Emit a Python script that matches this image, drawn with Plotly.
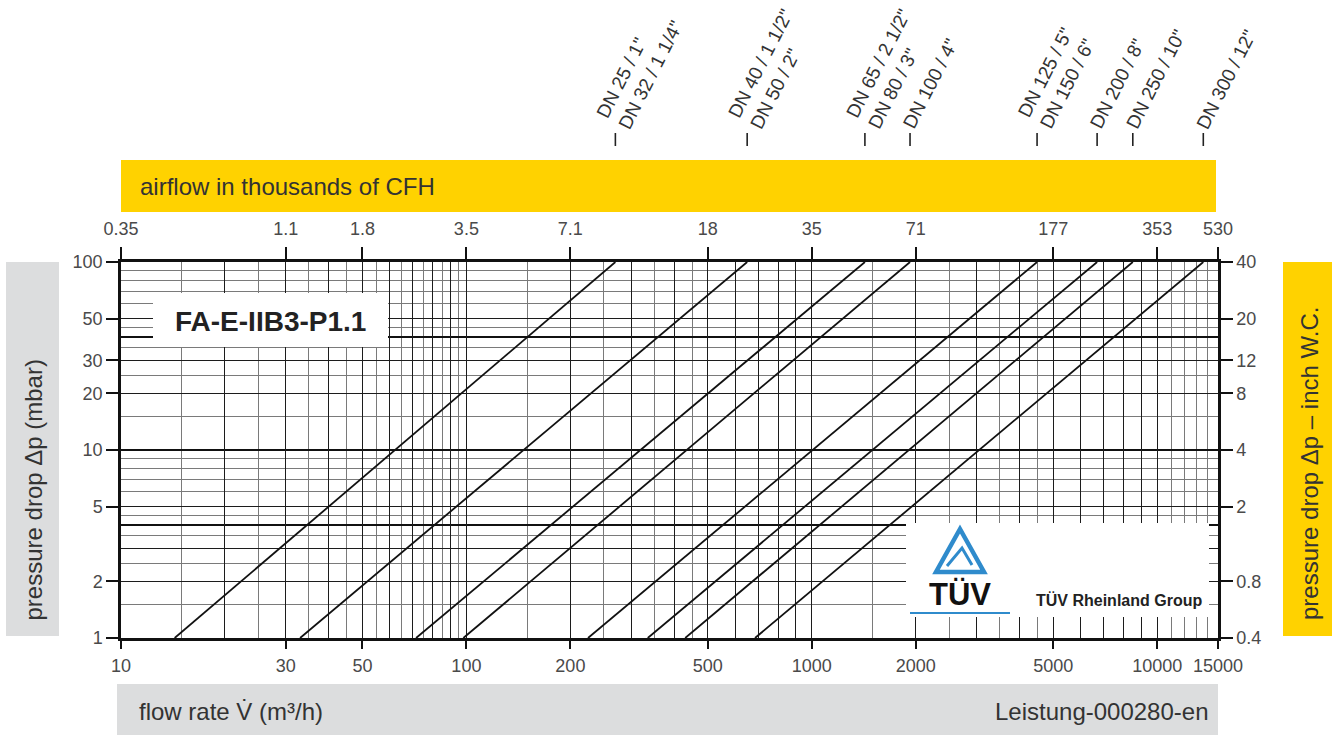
import numpy as np
import plotly.graph_objects as go

# ---------------- data ----------------
dn_labels = ['DN 25 / 1"<br>DN 32 / 1 1/4"', 'DN 40 / 1 1/2"<br>DN 50 / 2"',
             'DN 65 / 2 1/2"<br>DN 80 / 3"', 'DN 100 / 4"',
             'DN 125 / 5"<br>DN 150 / 6"', 'DN 200 / 8"', 'DN 250 / 10"', 'DN 300 / 12"']
flow_at_1mbar = [14.3, 33, 71.5, 98, 225, 335, 430, 685]          # m3/h at 1 mbar
flow_at_100mbar = [270, 650, 1425, 1925, 4490, 6700, 8500, 13600]  # m3/h at 100 mbar
pressure_ends = [1, 100]

flow_ticks = [10, 30, 50, 100, 200, 500, 1000, 2000, 5000, 10000, 15000]
flow_tick_text = ['10', '30', '50', '100', '200', '500', '1000', '2000', '5000', '10000', '15000']
cfh_tick_text = ['0.35', '1.1', '1.8', '3.5', '7.1', '18', '35', '71', '177', '353', '530']
mbar_ticks = [1, 2, 5, 10, 20, 30, 50, 100]
mbar_tick_text = ['1', '2', '5', '10', '20', '30', '50', '100']
inch_tick_text = ['0.4', '0.8', '2', '4', '8', '12', '20', '40']

grid_x_major = [10, 20, 30, 40, 50, 60, 70, 80, 90, 100, 200, 300, 400, 500, 600, 700, 800, 900,
                1000, 2000, 3000, 4000, 5000, 6000, 7000, 8000, 9000, 10000]
grid_x_minor = [15, 25, 35, 45, 55, 65, 75, 85, 95, 150, 250, 350, 450, 1500, 2500, 3500, 4500,
                11000, 12000, 13000, 14000]
grid_y_thick = [1, 4, 10, 40, 100]
grid_y_medium = [2, 3, 5, 20, 30, 50]
grid_y_thin = [1.5, 2.5, 3.5, 4.5, 6, 7, 8, 9, 15, 25, 35, 45, 60, 70, 80, 90]

# ---------------- layout geometry ----------------
W, H = 1332, 735
L, R, T, B = 121, 1218, 262, 638   # plot area in px
def px(x):
    return (x - L) / (R - L)
def py(y):
    return (B - y) / (B - T)

FONT = 'Liberation Sans, Arial, sans-serif'
TICKC = '#4a4a4a'
YELLOW = '#FFD200'
GRAY = '#DCDDDE'
BLUE = '#2F8BCC'

xr = [np.log10(10), np.log10(15000)]
yr = [0, 2]

fig = go.Figure()

for i in range(len(flow_at_1mbar)):
    fig.add_trace(go.Scatter(x=[flow_at_1mbar[i], flow_at_100mbar[i]], y=pressure_ends,
                             mode='lines', line=dict(color='#111111', width=1.8),
                             showlegend=False, hoverinfo='skip'))

# dummy traces binding the auxiliary axes
for xa, ya in [('x2', 'y'), ('x3', 'y'), ('x', 'y2'), ('x', 'y3'), ('x', 'y4')]:
    fig.add_trace(go.Scatter(x=[None], y=[None], xaxis=xa, yaxis=ya, showlegend=False,
                             hoverinfo='skip'))

tickfont = dict(family=FONT, size=18, color=TICKC)
common_x = dict(type='log', range=xr, zeroline=False, showgrid=False)
common_y = dict(type='log', range=yr, zeroline=False, showgrid=False)

fig.update_layout(
    width=W, height=H, margin=dict(l=L, r=W - R, t=T, b=H - B),
    paper_bgcolor='white', plot_bgcolor='white', showlegend=False,
    xaxis=dict(**common_x, tickvals=flow_ticks, ticktext=flow_tick_text, ticks='outside',
               ticklen=8, tickwidth=1.5, tickcolor='#111', showline=True, linewidth=2.5,
               linecolor='#111', tickfont=tickfont, ticklabelstandoff=2),
    xaxis2=dict(**common_x, overlaying='x', side='top', anchor='y', tickvals=flow_ticks,
                ticktext=cfh_tick_text, ticks='outside', ticklen=12, tickwidth=1.5,
                tickcolor='#111', showline=True, linewidth=2.5, linecolor='#111',
                tickfont=tickfont, ticklabelstandoff=5),
    xaxis3=dict(**{**common_x, 'showgrid': True}, overlaying='x', anchor='y', tickvals=grid_x_major,
                showticklabels=False, ticks='', gridcolor='#1c1c1c', gridwidth=1.4,
                minor=dict(tickvals=grid_x_minor, showgrid=True, gridcolor='#7a7a7a',
                           gridwidth=1, ticks='')),
    yaxis=dict(**common_y, tickvals=mbar_ticks, ticktext=mbar_tick_text, ticks='outside',
               ticklen=12, tickwidth=1.5, tickcolor='#111', showline=True, linewidth=2.5,
               linecolor='#111', tickfont=tickfont),
    yaxis2=dict(**common_y, overlaying='y', side='right', anchor='x', tickvals=mbar_ticks,
                ticktext=inch_tick_text, ticks='outside', ticklen=12, tickwidth=1.5,
                tickcolor='#111', showline=True, linewidth=2.5, linecolor='#111',
                tickfont=tickfont),
    yaxis3=dict(**{**common_y, 'showgrid': True}, overlaying='y', anchor='x', tickvals=grid_y_thick,
                showticklabels=False, ticks='', gridcolor='#111', gridwidth=2.4,
                minor=dict(tickvals=grid_y_thin, showgrid=True, gridcolor='#7a7a7a',
                           gridwidth=1, ticks='')),
    yaxis4=dict(**{**common_y, 'showgrid': True}, overlaying='y', anchor='x', tickvals=grid_y_medium,
                showticklabels=False, ticks='', gridcolor='#1c1c1c', gridwidth=1.4),
)

shapes = []
def rect(x0, y0, x1, y1, color, layer='below'):
    shapes.append(dict(type='rect', xref='paper', yref='paper', x0=px(x0), x1=px(x1),
                       y0=py(y1), y1=py(y0), fillcolor=color, line=dict(width=0), layer=layer))

rect(121, 160, 1216, 212, YELLOW)
rect(1283, 262, 1332, 636, YELLOW)
rect(6, 262, 59, 636, GRAY)
rect(117, 684, 1218, 735, GRAY)
rect(153, 293, 388, 347, 'white', 'above')
rect(906, 523, 1209, 617, 'white', 'above')

# DN tick marks above the yellow band (x in data units via the x axis)
for v in flow_at_100mbar:
    shapes.append(dict(type='line', xref='x', yref='paper', x0=v, x1=v, y0=py(146), y1=py(133),
                       line=dict(color='#222', width=1.6)))

# TUV logo (triangle)
def path(pts, close=False):
    s = 'M ' + ' L '.join(f'{px(a):.5f},{py(b):.5f}' for a, b in pts)
    return s + (' Z' if close else '')
shapes.append(dict(type='path', xref='paper', yref='paper', layer='above',
                   path=path([(960, 529), (936, 572), (984, 572)], close=True),
                   line=dict(color=BLUE, width=4.5), fillcolor='rgba(0,0,0,0)'))
shapes.append(dict(type='path', xref='paper', yref='paper', layer='above',
                   path=path([(947, 566), (962, 548), (972, 565)]),
                   line=dict(color=BLUE, width=3), fillcolor='rgba(0,0,0,0)'))
shapes.append(dict(type='line', xref='paper', yref='paper', layer='above',
                   x0=px(910), x1=px(1010), y0=py(613), y1=py(613),
                   line=dict(color=BLUE, width=2)))
fig.update_layout(shapes=shapes)

ann = []
bandfont = dict(family=FONT, size=24, color='#333333')
ann.append(dict(xref='paper', yref='paper', x=px(138), y=py(186), text='airflow in thousands of CFH',
                showarrow=False, xanchor='left', yanchor='middle', font=bandfont))
ann.append(dict(xref='paper', yref='paper', x=px(33), y=py(623), text='pressure drop Δp (mbar)',
                showarrow=False, xanchor='center', yanchor='bottom', textangle=-90, font=bandfont))
ann.append(dict(xref='paper', yref='paper', x=px(1309), y=py(622), text='pressure drop Δp – inch W.C.',
                showarrow=False, xanchor='center', yanchor='bottom', textangle=-90, font=bandfont))
ann.append(dict(xref='paper', yref='paper', x=px(137), y=py(711), text='flow rate V̇ (m³/h)',
                showarrow=False, xanchor='left', yanchor='middle', font=bandfont))
ann.append(dict(xref='paper', yref='paper', x=px(1211), y=py(711), text='Leistung-000280-en',
                showarrow=False, xanchor='right', yanchor='middle', font=bandfont))
ann.append(dict(xref='paper', yref='paper', x=px(270), y=py(321), text='<b>FA-E-IIB3-P1.1</b>',
                showarrow=False, xanchor='center', yanchor='middle',
                font=dict(family=FONT, size=28, color='#222')))
ann.append(dict(xref='paper', yref='paper', x=px(960), y=py(594), text='<b>TÜV</b>',
                showarrow=False, xanchor='center', yanchor='middle',
                font=dict(family=FONT, size=31, color='#111')))
ann.append(dict(xref='paper', yref='paper', x=px(1034), y=py(600), text='<b>TÜV Rheinland Group</b>',
                showarrow=False, xanchor='left', yanchor='middle',
                font=dict(family=FONT, size=16, color='#222')))

dnfont = dict(family=FONT, size=19, color='#333333')
theta = np.deg2rad(63)
for lab, v in zip(dn_labels, flow_at_100mbar):
    nlines = lab.count('<br>') + 1
    hbox = dnfont['size'] * (1.117 + 1.3 * (nlines - 1)) + 2
    start_off = 17 if nlines > 1 else 7
    ann.append(dict(xref='x', yref='paper', x=np.log10(v), y=py(135), text=lab, showarrow=False,
                    xanchor='left', yanchor='bottom', align='left', textangle=-63,
                    xshift=start_off - hbox * np.sin(theta), font=dnfont))
fig.update_layout(annotations=ann)

fig.write_html('out.html', config={'displayModeBar': False},
               post_script="document.body.style.margin='0';document.body.style.overflow='hidden';")
